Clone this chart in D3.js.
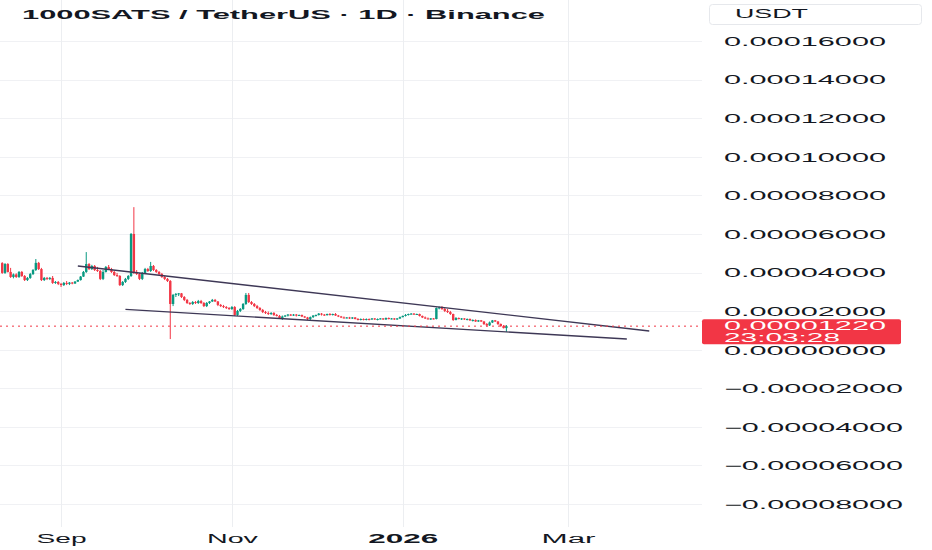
<!DOCTYPE html>
<html>
<head>
<meta charset="utf-8">
<script src="https://cdn.jsdelivr.net/npm/d3@7"></script>
<style>
  html, body { margin: 0; padding: 0; background: #ffffff; }
  text { font-family: "Liberation Sans", Arial, sans-serif; }
</style>
</head>
<body>
<div id="chart"></div>
<script>
// daily candles, prices in micro-USDT (x 1e-6)
const UNIT = 1e-6;
const firstDay = "2025-08-11";

const opens = [
  44.9,39.8,44.4,40.3,37.7,39.0,37.7,40.3,38.2,36.1,
  37.2,39.2,41.3,45.0,41.8,36.1,37.2,36.7,37.2,34.6,
  35.1,34.1,33.5,34.6,34.1,34.8,34.3,35.3,36.1,37.9,
  40.3,44.4,41.8,43.4,41.3,40.8,36.7,40.3,42.9,41.8,
  40.3,38.7,38.2,33.5,35.1,36.7,38.2,60.0,40.3,39.2,
  36.7,39.8,41.8,40.8,43.4,41.3,40.3,39.2,37.7,36.7,
  35.6,23.7,28.4,28.9,29.2,27.3,25.8,24.2,23.7,24.7,
  24.2,25.2,24.2,22.6,24.2,25.0,25.8,25.0,23.2,22.6,
  22.1,21.6,21.1,22.1,18.0,20.1,21.1,23.7,28.4,24.7,
  23.7,22.6,21.6,20.6,19.5,19.0,18.5,19.0,18.0,17.5,
  16.4,17.2,17.7,18.2,17.7,18.2,17.7,18.0,17.2,16.7,
  15.9,16.9,17.7,18.0,18.7,18.2,17.9,18.5,18.0,18.5,
  17.7,17.2,16.7,16.4,16.7,16.2,16.7,15.9,15.4,15.9,
  15.4,15.9,15.7,16.2,15.7,15.9,16.2,15.7,16.4,15.9,
  16.2,15.7,16.2,16.9,17.5,18.0,18.5,18.7,18.2,18.5,
  17.5,16.7,16.2,15.9,16.2,15.9,21.6,21.9,21.1,20.1,
  19.5,18.5,15.4,16.4,15.9,16.2,15.7,15.9,15.2,15.4,
  14.6,15.2,14.6,13.3,12.6,14.1,15.2,14.6,13.3,12.3,
  11.2
];
const highs = [
  45.4,44.9,44.9,42.4,39.5,39.6,40.8,40.8,38.7,37.7,
  39.8,41.8,47.0,45.5,42.4,37.7,37.7,37.7,38.2,35.6,
  35.6,34.6,35.1,35.6,35.1,35.1,35.6,36.4,38.2,40.8,
  50.6,44.9,44.0,43.9,42.9,41.3,41.3,43.4,43.9,42.4,
  40.8,39.8,38.7,35.6,37.2,38.7,60.5,73.9,41.3,39.8,
  40.3,42.4,42.4,45.5,43.9,41.8,40.8,39.8,38.2,37.2,
  36.1,28.9,29.4,29.4,29.4,27.8,26.3,24.7,25.2,25.2,
  25.8,25.8,24.7,24.7,25.2,26.3,26.3,25.2,23.7,23.2,
  22.6,22.1,22.6,22.6,20.6,21.6,24.2,29.4,29.4,25.2,
  24.2,23.2,22.1,21.1,20.1,19.8,19.5,19.5,18.5,18.0,
  17.7,18.0,18.5,18.5,18.5,18.5,18.2,18.2,17.5,17.0,
  17.2,17.9,18.2,19.0,19.0,18.5,18.7,19.0,18.7,19.0,
  18.0,17.5,17.2,16.9,17.0,16.9,16.9,16.4,16.2,16.2,
  16.2,16.2,16.4,16.4,16.2,16.4,16.4,16.7,16.7,16.4,
  16.4,16.4,17.2,17.7,18.5,18.7,19.0,19.0,18.7,18.7,
  17.7,17.2,16.7,16.4,16.4,21.9,22.4,22.6,21.6,21.1,
  20.1,18.7,16.9,16.7,16.4,16.4,16.2,16.2,15.7,15.7,
  15.4,15.4,14.9,13.8,14.6,15.4,15.4,14.9,13.6,12.8,
  12.8
];
const lows = [
  39.3,39.3,40.0,37.2,37.0,37.2,37.2,37.7,35.6,35.6,
  36.7,38.7,40.8,41.3,35.6,35.6,36.1,36.1,34.1,34.1,
  33.5,32.5,33.0,33.5,33.5,33.9,34.1,35.1,35.8,37.7,
  39.8,41.3,41.3,40.8,40.3,36.1,36.1,40.0,41.3,39.8,
  38.2,37.7,33.0,33.0,34.6,36.1,37.7,39.2,38.7,36.1,
  36.1,39.2,40.3,40.3,40.8,39.8,38.7,37.2,36.1,35.1,
  5.5,22.6,27.3,27.8,26.8,25.2,23.7,23.2,23.2,23.7,
  23.7,23.7,22.1,22.1,23.7,24.7,24.7,22.6,22.1,21.6,
  21.1,20.6,20.6,17.5,17.5,19.5,20.6,23.2,24.2,23.2,
  22.1,21.1,20.1,19.0,18.5,18.0,18.0,17.5,17.2,15.9,
  15.4,16.9,17.2,17.5,17.5,17.2,17.5,16.9,16.4,15.4,
  15.4,16.4,17.2,17.7,17.7,17.5,17.7,17.7,17.7,17.5,
  16.9,16.4,16.2,16.2,15.9,15.9,15.7,15.2,15.2,15.2,
  15.2,15.2,15.4,15.4,15.2,15.7,15.4,15.4,15.7,15.7,
  15.4,15.4,15.9,16.7,17.2,17.7,18.2,18.0,18.0,17.2,
  16.4,15.9,15.7,15.4,15.7,15.7,20.9,20.6,19.5,19.0,
  18.0,14.9,15.2,15.7,15.4,15.4,15.2,14.9,14.6,14.4,
  14.4,14.4,12.8,12.0,12.3,13.8,14.4,12.8,11.8,11.0,
  9.2
];
const closes = [
  39.8,44.4,40.3,37.7,39.0,37.7,40.3,38.2,36.1,37.2,
  39.2,41.3,45.0,41.8,36.1,37.2,36.7,37.2,34.6,35.1,
  34.1,33.5,34.6,34.1,34.8,34.3,35.3,36.1,37.9,40.3,
  44.4,41.8,43.4,41.3,40.8,36.7,40.3,42.9,41.8,40.3,
  38.7,38.2,33.5,35.1,36.7,38.2,60.0,40.3,39.2,36.7,
  39.8,41.8,40.8,43.4,41.3,40.3,39.2,37.7,36.7,35.6,
  23.7,28.4,28.9,29.2,27.3,25.8,24.2,23.7,24.7,24.2,
  25.2,24.2,22.6,24.2,25.0,25.8,25.0,23.2,22.6,22.1,
  21.6,21.1,22.1,18.0,20.1,21.1,23.7,28.4,24.7,23.7,
  22.6,21.6,20.6,19.5,19.0,18.5,19.0,18.0,17.5,16.4,
  17.2,17.7,18.2,17.7,18.2,17.7,18.0,17.2,16.7,15.9,
  16.9,17.7,18.0,18.7,18.2,17.9,18.5,18.0,18.5,17.7,
  17.2,16.7,16.4,16.7,16.2,16.7,15.9,15.4,15.9,15.4,
  15.9,15.7,16.2,15.7,15.9,16.2,15.7,16.4,15.9,16.2,
  15.7,16.2,16.9,17.5,18.0,18.5,18.7,18.2,18.5,17.5,
  16.7,16.2,15.9,16.2,15.9,21.6,21.9,21.1,20.1,19.5,
  18.5,15.4,16.4,15.9,16.2,15.7,15.9,15.2,15.4,14.6,
  15.2,14.6,13.3,12.6,14.1,15.2,14.6,13.3,12.3,11.2,
  12.2
];

// two drawn trend lines: [date, price]
const upperLine = [["2025-09-07", 43.4], ["2026-03-30", 9.7]];
const lowerLine = [["2025-09-24", 20.9], ["2026-03-22", 5.5]];

const lastPrice = 12.2;
const countdown = "23:03:28";
const yTicks = [-80, -60, -40, -20, 0, 20, 40, 60, 80, 100, 120, 140, 160];
const xTicks = ["2025-09-01", "2025-11-01", "2026-01-01", "2026-03-01"];
const xTickLabels = ["Sep", "Nov", "2026", "Mar"];
const title = "1000SATS / TetherUS \u00b7 1D \u00b7 Binance";
const currency = "USDT";

const width = 932, height = 550;
const plotW = 702, plotH = 525;
const up = "#089981", down = "#f23645";

const parse = d3.utcParse("%Y-%m-%d");
const day0 = parse(firstDay);
const candles = closes.map((c, i) => ({
  date: d3.utcDay.offset(day0, i),
  o: opens[i] * UNIT, h: highs[i] * UNIT, l: lows[i] * UNIT, c: c * UNIT
}));

const svg = d3.select("#chart")
              .append("svg")
              .attr("width", width)
              .attr("height", height)
              .style("display", "block");

svg.append("rect")
   .attr("width", width)
   .attr("height", height)
   .attr("fill", "#ffffff");

const x = d3.scaleUtc()
            .domain([new Date(Date.UTC(2025, 7, 10, 5)), new Date(Date.UTC(2026, 3, 17, 20))])
            .range([0, plotW]);

const y = d3.scaleLinear()
            .domain([-0.0000909, 0.0001813])
            .range([plotH, 0]);

// grid
const grid = svg.append("g");
grid.selectAll(".hg")
    .data(yTicks)
    .join("line")
    .attr("x1", 0).attr("x2", plotW)
    .attr("y1", d => Math.round(y(d * UNIT)) + 0.5)
    .attr("y2", d => Math.round(y(d * UNIT)) + 0.5)
    .attr("stroke", "#f0f1f4");

grid.selectAll(".vg")
    .data(xTicks)
    .join("line")
    .attr("x1", d => Math.round(x(parse(d))) + 0.5)
    .attr("x2", d => Math.round(x(parse(d))) + 0.5)
    .attr("y1", 0).attr("y2", 527)
    .attr("stroke", "#eceef1");

// title
svg.append("text")
   .attr("x", 22)
   .attr("y", 18.5)
   .attr("font-size", 12.5)
   .attr("font-weight", "bold")
   .attr("fill", "#131722")
   .attr("textLength", 523)
   .attr("lengthAdjust", "spacingAndGlyphs")
   .text(title);

// candles
const plot = svg.append("g");

plot.selectAll(".wick")
    .data(candles)
    .join("line")
    .attr("x1", d => x(d.date))
    .attr("x2", d => x(d.date))
    .attr("y1", d => y(d.h))
    .attr("y2", d => y(d.l))
    .attr("stroke", d => d.c >= d.o ? up : down)
    .attr("stroke-width", 1);

plot.selectAll(".body")
    .data(candles)
    .join("rect")
    .attr("x", d => x(d.date) - 1.2)
    .attr("width", 2.4)
    .attr("y", d => y(Math.max(d.o, d.c)))
    .attr("height", d => Math.max(1, Math.abs(y(d.o) - y(d.c))))
    .attr("fill", d => d.c >= d.o ? up : down);

// trend lines
[upperLine, lowerLine].forEach(line => {
  plot.append("line")
      .attr("x1", x(parse(line[0][0])))
      .attr("y1", y(line[0][1] * UNIT))
      .attr("x2", x(parse(line[1][0])))
      .attr("y2", y(line[1][1] * UNIT))
      .attr("stroke", "#3e3856")
      .attr("stroke-width", 1.4);
});

// last price line
plot.append("line")
    .attr("x1", 0).attr("x2", plotW)
    .attr("y1", y(lastPrice * UNIT)).attr("y2", y(lastPrice * UNIT))
    .attr("stroke", down)
    .attr("stroke-width", 1)
    .attr("stroke-dasharray", "2,4");

// right axis
const fmt = d3.format(".8f");
const yAxis = svg.append("g")
                 .attr("transform", `translate(${plotW},0)`)
                 .call(d3.axisRight(y)
                         .tickValues(yTicks.map(d => d * UNIT))
                         .tickSize(0)
                         .tickPadding(22)
                         .tickFormat(fmt));
yAxis.select(".domain").remove();
yAxis.selectAll("text")
     .attr("font-size", 12)
     .attr("font-family", "Liberation Sans, Arial, sans-serif")
     .attr("fill", "#131722")
     .attr("dy", "0.36em")
     .attr("textLength", d => d < 0 ? 179 : 162)
     .attr("lengthAdjust", "spacingAndGlyphs");

// currency box
svg.append("rect")
   .attr("x", 709.5).attr("y", 4.5)
   .attr("width", 212).attr("height", 20)
   .attr("rx", 3)
   .attr("fill", "#ffffff")
   .attr("stroke", "#e6e8ec");
svg.append("text")
   .attr("x", 735).attr("y", 18.3)
   .attr("font-size", 12)
   .attr("fill", "#131722")
   .attr("textLength", 73)
   .attr("lengthAdjust", "spacingAndGlyphs")
   .text(currency);

// last price label
const lp = y(lastPrice * UNIT);
svg.append("rect")
   .attr("x", 702).attr("y", lp - 7)
   .attr("width", 199).attr("height", 25)
   .attr("rx", 2)
   .attr("fill", down);
svg.append("text")
   .attr("x", 724).attr("y", lp + 3.6)
   .attr("font-size", 12)
   .attr("fill", "#ffffff")
   .attr("textLength", 162)
   .attr("lengthAdjust", "spacingAndGlyphs")
   .text(fmt(lastPrice * UNIT));
svg.append("text")
   .attr("x", 724).attr("y", lp + 15.5)
   .attr("font-size", 12)
   .attr("fill", "#ffffff")
   .attr("textLength", 116)
   .attr("lengthAdjust", "spacingAndGlyphs")
   .text(countdown);

// bottom axis
const xAxis = svg.append("g")
                 .attr("transform", `translate(0,${plotH})`)
                 .call(d3.axisBottom(x)
                         .tickValues(xTicks.map(parse))
                         .tickSize(0)
                         .tickPadding(9)
                         .tickFormat((d, i) => xTickLabels[i]));
xAxis.select(".domain").remove();
xAxis.selectAll("text")
     .attr("font-size", 12)
     .attr("font-family", "Liberation Sans, Arial, sans-serif")
     .attr("fill", "#131722")
     .attr("font-weight", (d, i) => xTickLabels[i] === "2026" ? "bold" : "normal")
     .attr("textLength", (d, i) => [50, 51, 70, 54][i])
     .attr("lengthAdjust", "spacingAndGlyphs");
</script>
</body>
</html>
